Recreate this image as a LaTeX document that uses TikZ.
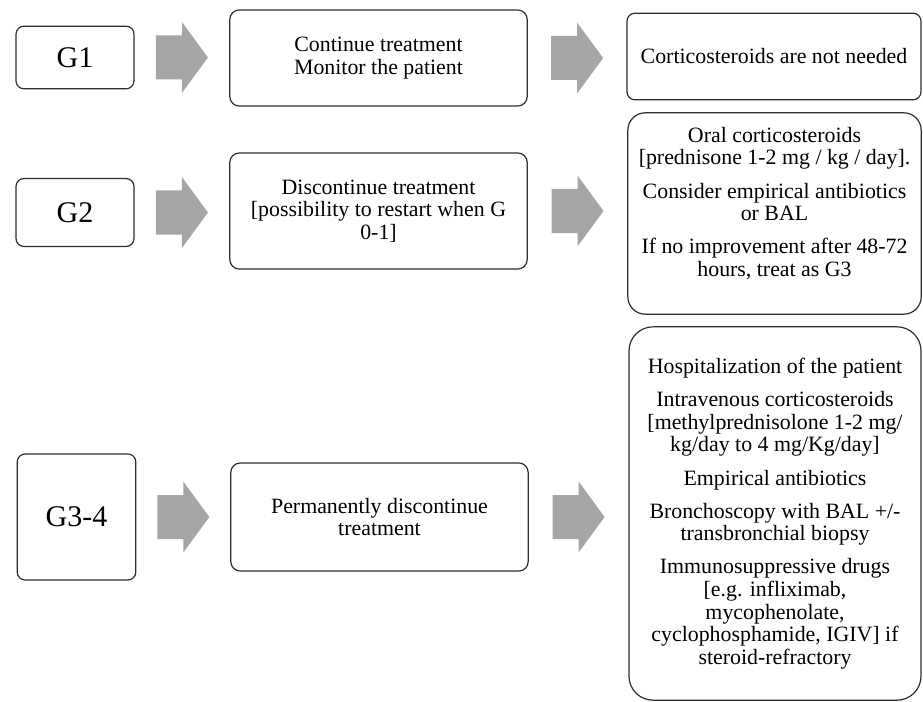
\documentclass[tikz,border=0pt]{standalone}
\usepackage{fontspec}
\setmainfont{Liberation Serif}
\usetikzlibrary{calc}

\definecolor{arrowgray}{RGB}{166,166,166}
\definecolor{boxline}{RGB}{45,45,45}

\tikzset{
	gradebox/.style={draw=boxline, line width=0.9pt, rounded corners=6pt, inner sep=0pt,
		font=\fontsize{22.5}{26}\selectfont},
	stepbox/.style={draw=boxline, line width=0.9pt, rounded corners=7pt, inner sep=0pt,
		align=center, font=\fontsize{16.4}{16.9}\selectfont},
	fatarrow/.style={fill=arrowgray},
}

\begin{document}
\begin{tikzpicture}[x=0.75pt,y=-0.75pt]

\useasboundingbox (0,0) rectangle (923,702);

% grade boxes
\node[gradebox, minimum width=88.5pt, minimum height=47pt] (g1) at (75,57.5) {G1};
\node[gradebox, minimum width=88.5pt, minimum height=51pt] (g2) at (75,212.5) {G2};
\node[gradebox, minimum width=89pt, minimum height=94.5pt] (g3) at (76.5,517) {G3-4};

% what to do with the treatment
\node[stepbox, minimum width=223pt, minimum height=72pt] (c1) at (378.5,58)
	{Continue treatment\\Monitor the patient};
\node[stepbox, minimum width=223pt, minimum height=87pt] (c2) at (378.5,211)
	{Discontinue treatment\\{[}possibility to restart when G\\0-1]};
\node[stepbox, minimum width=223pt, minimum height=81pt] (c3) at (379.5,517)
	{Permanently discontinue\\treatment};

% corticosteroids and the rest
\node[stepbox, minimum width=220.5pt, minimum height=65pt, rounded corners=6pt] (r1) at (774,56.5)
	{Corticosteroids are not needed};
\node[stepbox, minimum width=220pt, minimum height=151pt, rounded corners=13pt] (r2) at (774.5,213.5) {};
\node[align=center, inner sep=0pt, font=\fontsize{16.4}{16.9}\selectfont] (r2txt) at ($(r2.center)+(0,-10)$)
	{Oral corticosteroids\\{[}prednisone 1-2 mg / kg / day].\\[8pt]
	 Consider empirical antibiotics\\or BAL\\[8pt]
	 If no improvement after 48-72\\hours, treat as G3};
\node[stepbox, minimum width=219pt, minimum height=280pt, rounded corners=18pt] (r3) at (775,513.5)
	{Hospitalization of the patient\\[8pt]
	 Intravenous corticosteroids\\{[}methylprednisolone 1-2 mg/\\kg/day to 4 mg/Kg/day]\\[8pt]
	 Empirical antibiotics\\[8pt]
	 Bronchoscopy with BAL +/-\\transbronchial biopsy\\[8pt]
	 Immunosuppressive drugs\\{[}e.g. infliximab,\\mycophenolate,\\cyclophosphamide, IGIV] if\\steroid-refractory};

% block arrows
\foreach \src/\dst in {g1/c1,g2/c2,g3/c3,c1/r1,c2/r2,c3/r3}
{
	\coordinate (m) at ($(\src.east)!0.5!(\src.east -| \dst.west)$);
	\fill[fatarrow] ($(m)+(-26,-22)$) -- ($(m)+(0,-22)$) -- ($(m)+(0,-35.5)$) -- ($(m)+(26,0)$)
		-- ($(m)+(0,35.5)$) -- ($(m)+(0,22)$) -- ($(m)+(-26,22)$) -- cycle;
}

\end{tikzpicture}
\end{document}
